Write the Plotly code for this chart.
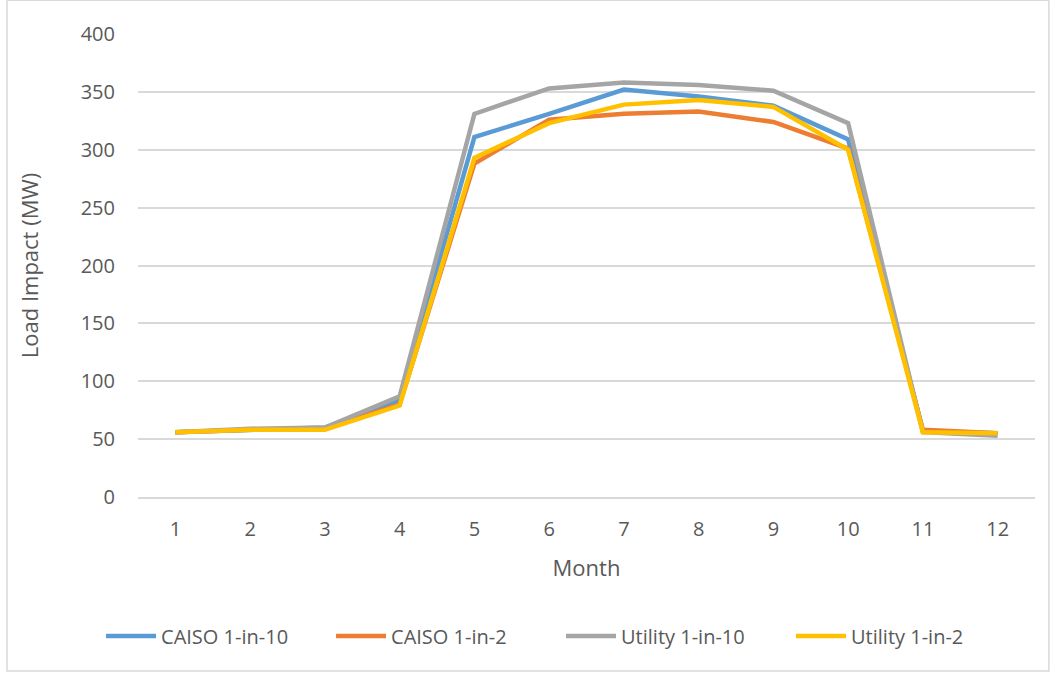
import plotly.graph_objects as go

months = [1, 2, 3, 4, 5, 6, 7, 8, 9, 10, 11, 12]
caiso_1in10 = [56, 58, 60, 84, 311, 331, 352, 346, 338, 309, 57, 55]
caiso_1in2 = [56, 58, 59, 80, 288, 326, 331, 333, 324, 301, 58, 55]
utility_1in10 = [56, 59, 60, 87, 331, 353, 358, 356, 351, 323, 56, 53]
utility_1in2 = [56, 58, 58, 79, 293, 323, 339, 343, 337, 300, 56, 55]

series = [
    ("CAISO 1-in-10", caiso_1in10, "#5B9BD5"),
    ("CAISO 1-in-2", caiso_1in2, "#ED7D31"),
    ("Utility 1-in-10", utility_1in10, "#A5A5A5"),
    ("Utility 1-in-2", utility_1in2, "#FFC000"),
]

fig = go.Figure()
for name, vals, color in series:
    fig.add_trace(go.Scatter(x=months, y=vals, name=name, mode="lines",
                             line=dict(color=color, width=4.5)))

font_family = "Open Sans, Carlito, Calibri, sans-serif"
fig.update_layout(
    width=1051, height=675,
    margin=dict(l=138, r=16, t=34, b=178, autoexpand=False),
    paper_bgcolor="white", plot_bgcolor="white",
    font=dict(family=font_family, size=20, color="#595959"),
    showlegend=True,
    legend=dict(orientation="h", x=-0.0412, xanchor="left", y=-0.3, yanchor="middle",
                font=dict(size=20, color="#595959"), traceorder="normal",
                itemwidth=50, entrywidth=165, entrywidthmode="pixels"),
    xaxis=dict(range=[0.5, 12.5], tickmode="array", tickvals=months,
               ticktext=[str(m) for m in months], showgrid=False,
               showline=True, linecolor="#D9D9D9", linewidth=1.5,
               ticks="outside", ticklen=13, tickcolor="rgba(0,0,0,0)", zeroline=False,
               tickfont=dict(size=20),
               title=dict(text="Month", font=dict(size=22, color="#595959"), standoff=20)),
    yaxis=dict(range=[0, 400], dtick=50, showgrid=True, gridcolor="#D9D9D9", gridwidth=1.5,
               zeroline=False, showline=False, ticks="outside", ticklen=18,
               tickcolor="rgba(0,0,0,0)", tickfont=dict(size=20),
               title=dict(text="Load Impact (MW)", font=dict(size=22, color="#595959"), standoff=35)),
    shapes=[dict(type="rect", xref="paper", yref="paper", x0=-0.146, x1=1.0155,
                 y0=-0.376, y1=1.073, line=dict(color="#D9D9D9", width=1.5))],
)

fig.write_html("out.html")
